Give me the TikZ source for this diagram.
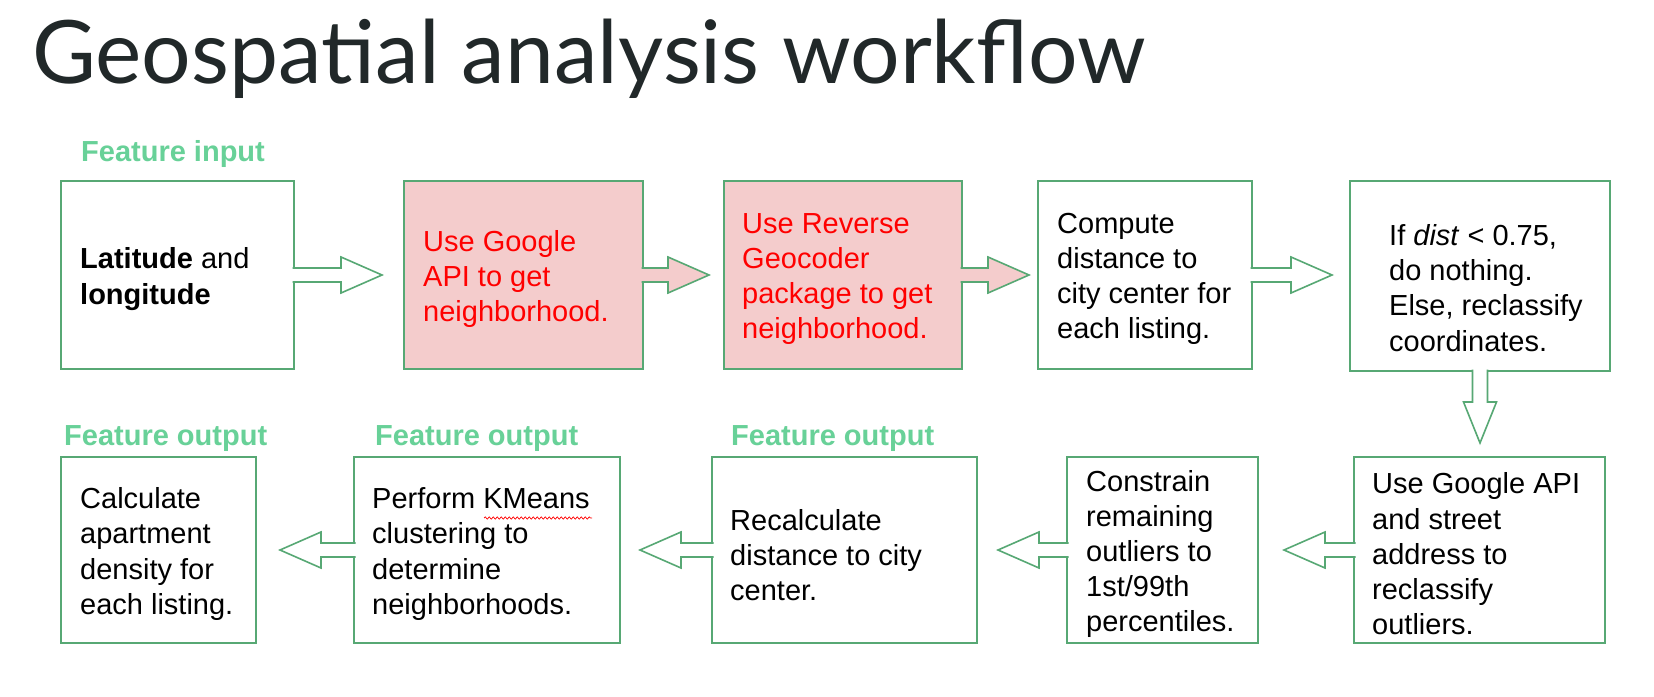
\documentclass[tikz,border=0pt]{standalone}
\usepackage{fontspec}
\setmainfont{Liberation Sans}
\newfontfamily\titlefont{Lato}
\usetikzlibrary{calc,decorations.pathmorphing}
\definecolor{boxgreen}{RGB}{87,168,116}
\definecolor{labelgreen}{RGB}{104,209,152}
\definecolor{pinkfill}{RGB}{244,204,204}
\definecolor{titlegray}{RGB}{33,40,41}
\definecolor{redtext}{RGB}{255,0,0}
\newcommand{\blockR}[3]{%
  \path[blockarrow,fill=#3] ($(#1.east)+(-1.5,-7)$) -- ++(1.5+#2,0) -- ++(0,-11) -- ++(41,18) -- ++(-41,18) -- ++(0,-11) -- ++(-1.5-#2,0);}
\newcommand{\blockL}[2]{%
  \path[blockarrow,fill=white] ($(#1.west)+(1.5,-7)$) -- ++(-1.5-#2,0) -- ++(0,-11) -- ++(-41,18) -- ++(41,18) -- ++(0,-11) -- ++(1.5+#2,0);}
\begin{document}
\begin{tikzpicture}[x=1pt,y=-1pt,
  box/.style={draw=boxgreen,line width=1.6pt,inner sep=0pt,outer sep=0pt,fill=white},
  pinkbox/.style={box,fill=pinkfill},
  blockarrow/.style={draw=boxgreen,line width=1.6pt,line join=miter},
  boxtext/.style={anchor=west,align=left,inner sep=0pt,font=\fontsize{29}{35.2}\selectfont,text=black},
  redboxtext/.style={boxtext,text=redtext},
  flabel/.style={anchor=base west,inner sep=0pt,font=\fontsize{29}{34}\selectfont\bfseries,text=labelgreen}]
\useasboundingbox (0,0) rectangle (1654,696);
\fill[white] (0,0) rectangle (1654,696);
% title
\node[anchor=base west,inner sep=0pt,text=titlegray] (title) at (32,83)
  {\resizebox{1113pt}{!}{\titlefont Geospatial analysis workflow}};
% labels
\node[flabel] (lin) at (81,161) {Feature input};
\node[flabel] (lout1) at (64,445) {Feature output};
\node[flabel] (lout2) at (375,445) {Feature output};
\node[flabel] (lout3) at (731,445) {Feature output};
% boxes row 1
\node[box,minimum width=233pt,minimum height=188pt] (b1) at (177.5,275) {};
\node[pinkbox,minimum width=239pt,minimum height=188pt] (b2) at (523.5,275) {};
\node[pinkbox,minimum width=238pt,minimum height=188pt] (b3) at (843,275) {};
\node[box,minimum width=214pt,minimum height=188pt] (b4) at (1145,275) {};
\node[box,minimum width=260pt,minimum height=190pt] (b5) at (1480,276) {};
% boxes row 2
\node[box,minimum width=195pt,minimum height=186pt] (b6) at (158.5,550) {};
\node[box,minimum width=266pt,minimum height=186pt] (b7) at (487,550) {};
\node[box,minimum width=265pt,minimum height=186pt] (b8) at (844.5,550) {};
\node[box,minimum width=191pt,minimum height=186pt] (b9) at (1162.5,550) {};
\node[box,minimum width=251pt,minimum height=186pt] (b10) at (1479.5,550) {};
% arrows row 1
\blockR{b1}{47}{white}
\blockR{b2}{25}{pinkfill}
\blockR{b3}{26}{pinkfill}
\blockR{b4}{39}{white}
% down arrow
\path[blockarrow,fill=white] ($(b5.south)+(-7.5,-1.5)$) -- ++(0,32.5) -- ++(-9,0) -- ++(16.5,41) -- ++(16.5,-41) -- ++(-9,0) -- ++(0,-32.5);
% arrows row 2
\blockL{b10}{29}
\blockL{b9}{28}
\blockL{b8}{31}
\blockL{b7}{33}
% texts
\node[boxtext] (t1) at (80,279) {\textbf{Latitude} and\\\textbf{longitude}};
\node[redboxtext] (t2) at (423,279) {Use Google\\API to get\\neighborhood.};
\node[redboxtext] (t3) at (742,279) {Use Reverse\\Geocoder\\package to get\\neighborhood.};
\node[boxtext] (t4) at (1057,279) {Compute\\distance to\\city center for\\each listing.};
\node[boxtext] (t5) at (1389,288) {If \textit{dist} < 0.75,\\do nothing.\\Else, reclassify\\coordinates.};
\node[boxtext] (t6) at (80,554) {Calculate\\apartment\\density for\\each listing.};
\node[boxtext] (t7) at (372,554) {Perform KMeans\\clustering to\\determine\\neighborhoods.};
\node[boxtext] (t8) at (730,555) {Recalculate\\distance to city\\center.};
\node[boxtext] (t9) at (1086,554) {Constrain\\remaining\\outliers to\\1st/99th\\percentiles.};
\node[boxtext] (t10) at (1372,554) {Use Google API\\and street\\address to\\reclassify\\outliers.};
% spell-check squiggle under KMeans
\coordinate (sq1) at (484,518);
\coordinate (sq2) at (592,518);
\draw[red,line width=0.7pt,decorate,decoration={snake,segment length=4pt,amplitude=1.1pt}] (sq1) -- (sq2);
\end{tikzpicture}
\end{document}
